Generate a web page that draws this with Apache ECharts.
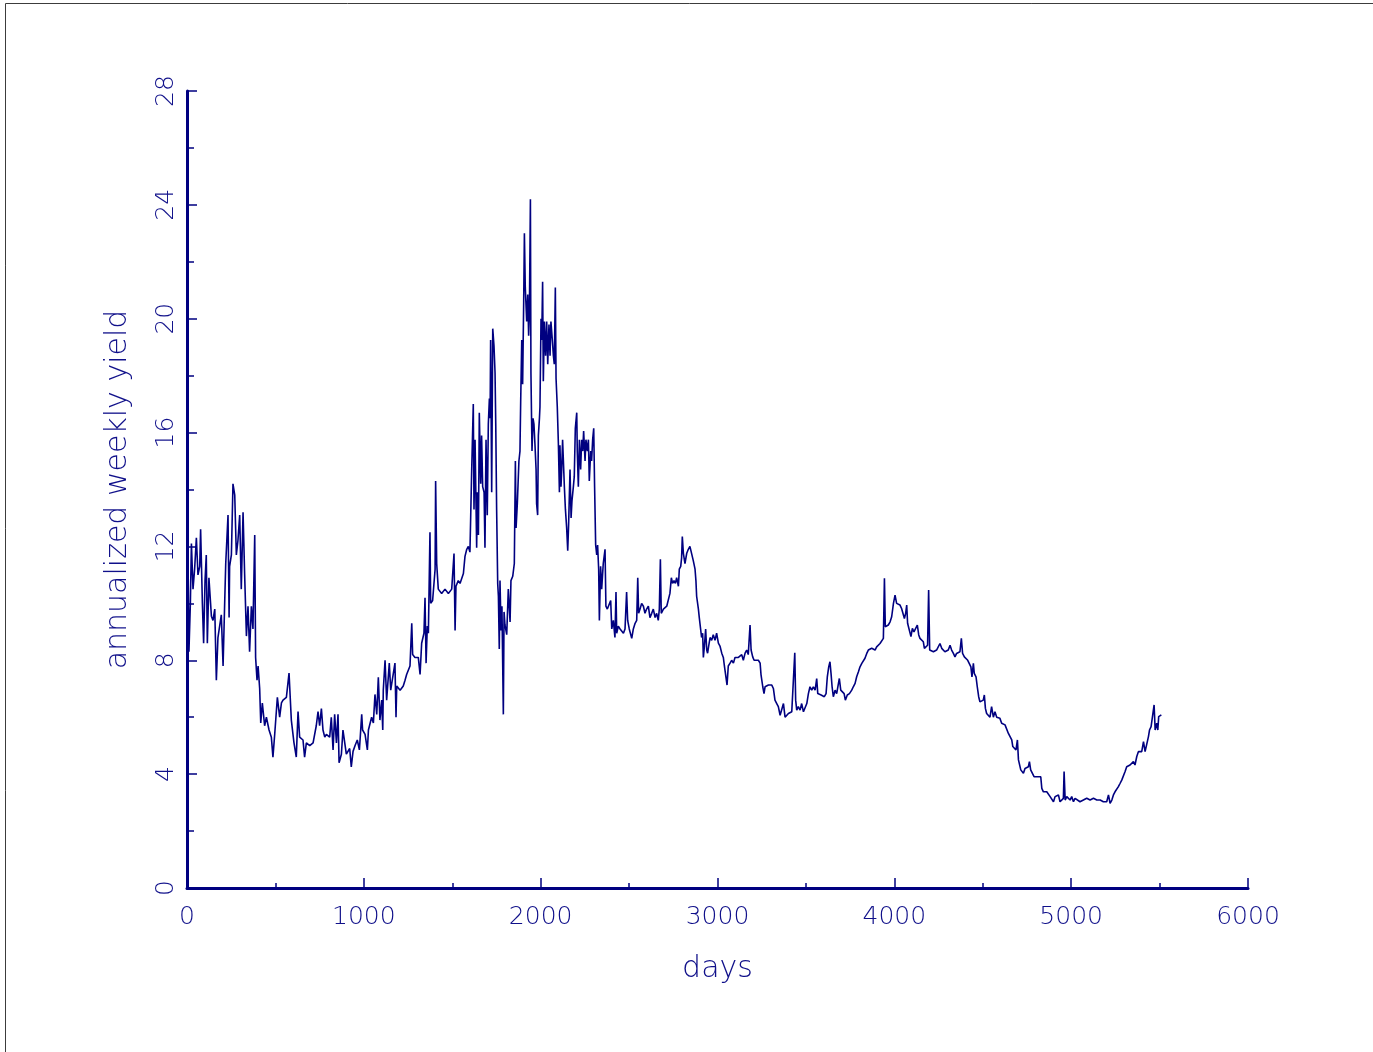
<!DOCTYPE html>
<html><head><meta charset="utf-8">
<script src="https://cdn.jsdelivr.net/npm/echarts@6/dist/echarts.min.js"></script>
<style>html,body{margin:0;padding:0;background:#fff;}#c{width:1373px;height:1052px;}</style>
</head><body><div id="c"></div>
<script>
// x-axis / y-axis tick settings
const xTickValues = [0, 1000, 2000, 3000, 4000, 5000, 6000];
const yTickValues = [0, 4, 8, 12, 16, 20, 24, 28];
const xLabel = 'days';
const yLabel = 'annualized weekly yield';

// [day, annualized weekly yield], by period
const early = [[0,8.9],[6,11.5],[11,8.3],[19,10.0],[25,12.1],[34,10.5],[43,11.2],[53,12.3],[62,11.0],[72,11.3],
[77,12.6],[87,10.0],[94,8.6],[102,10.8],[109,11.7],[115,8.6],[124,10.9],[138,9.55],[147,9.4],[157,9.8],
[166,7.3],[175,8.8],[185,8.8],[194,9.6],[204,7.8],[213,10.0],[219,11.4],[232,13.1],[238,9.5],[241,11.3],
[251,11.7],[260,14.2],[270,13.8],[279,11.7],[288,12.2],[298,13.1],[307,10.5],[317,13.2],[326,11.0],[336,8.85],
[345,9.9],[354,8.3],[364,9.9],[373,9.1],[383,12.4],[388,8.1],[396,7.3],[402,7.8],[411,7.0],[417,5.8],
[426,6.5],[439,5.7],[449,6.0],[464,5.55],[477,5.3],[486,4.6],[496,5.4],[511,6.7],[524,6.0],[534,6.5],
[543,6.6],[562,6.7],[577,7.55],[590,5.9],[605,5.1],[618,4.6],[628,6.2],[637,5.3],[656,5.2],[665,4.6],
[675,5.1],[694,5.0],[713,5.1],[731,5.7],[741,6.2],[750,5.7],[760,6.3],[769,5.55],[779,5.3],[788,5.4],
[807,5.3],[816,6.0],[826,4.85],[835,6.1],[845,5.1],[854,6.1],[860,4.4],[873,4.7],[882,5.55],[901,4.7],
[920,4.9],[929,4.25],[939,4.8]];

const rise = [[950,5.0],[963,5.2],[975,4.85],[988,6.1],[993,5.55],[1007,5.4],[1020,4.85],[1026,5.55],[1044,6.0],[1054,5.8],
[1063,6.8],[1073,6.1],[1082,7.4],[1091,5.9],[1101,6.6],[1107,5.55],[1110,6.95],[1120,8.0],[1129,6.6],[1144,7.9],
[1152,6.95],[1163,6.95],[1176,7.9],[1182,6.0],[1186,7.1],[1205,6.95],[1223,7.1],[1233,7.3],[1242,7.5],[1261,7.8],
[1271,9.3],[1276,8.2],[1289,8.1],[1308,8.1],[1318,7.5],[1327,8.6],[1340,8.95],[1346,10.2],[1352,7.9],[1359,9.2],
[1365,8.95],[1374,12.5],[1378,10.0],[1389,10.1],[1403,11.2],[1406,14.3],[1412,11.4],[1421,10.5],[1440,10.35],[1459,10.5],
[1478,10.35],[1497,10.5],[1510,11.75],[1516,9.05],[1521,10.6],[1534,10.8],[1544,10.7],[1563,11.05],[1572,11.65],[1582,11.9],
[1591,12.0]];

const peak = [[1600,11.8],[1610,14.7],[1619,17.0],[1623,13.3],[1629,15.75],[1638,11.95],[1642,13.9],[1648,12.4],[1653,16.7],[1661,14.2],
[1666,15.9],[1672,14.1],[1680,13.9],[1685,11.95],[1691,15.75],[1698,13.1],[1704,16.3],[1710,17.2],[1714,16.5],[1717,19.25],
[1723,13.9],[1729,19.65],[1736,19.05],[1742,18.1],[1746,16.3],[1751,13.3],[1757,10.7],[1761,10.25],[1766,8.4],[1770,10.8],
[1776,9.05],[1781,9.9],[1789,6.1],[1793,9.7],[1798,9.25],[1808,8.9],[1817,10.5],[1827,9.35],[1832,10.8],[1842,10.95],
[1851,11.4],[1857,15.0],[1861,12.65],[1868,13.5],[1877,15.0],[1883,15.35],[1887,17.1],[1893,19.25],[1898,17.7],[1904,20.6],
[1908,23.0],[1913,21.1],[1921,19.9],[1927,20.85],[1932,19.4],[1936,20.1],[1942,24.2],[1945,18.1],[1951,15.35],[1957,16.5],
[1962,16.3],[1968,15.55],[1974,14.7],[1977,13.5],[1983,13.1],[1987,15.9],[1993,16.5],[1996,16.9],[2002,20.0],[2006,19.25],
[2011,21.3],[2015,17.8],[2021,19.9],[2028,18.7],[2034,19.9],[2040,18.4],[2047,19.8],[2053,18.7],[2058,19.9],[2066,19.25],
[2072,18.7],[2077,18.4],[2083,21.1],[2087,17.9],[2094,16.9],[2100,15.65],[2106,13.9],[2109,15.55],[2115,14.1],[2119,14.7],
[2124,15.75],[2134,14.1],[2140,13.3],[2147,12.65],[2153,11.85],[2158,12.75],[2166,14.7],[2172,13.0],[2177,13.6],[2185,14.1],
[2190,14.45],[2196,16.15],[2204,16.7],[2207,15.35],[2213,14.1],[2219,15.75],[2226,14.7],[2232,15.75],[2238,15.35],[2243,16.05],
[2251,15.0],[2256,15.75],[2264,15.35],[2270,15.75],[2275,14.3],[2283,15.35],[2288,15.0],[2294,15.75],[2300,16.15],[2305,14.1],
[2311,12.05],[2317,11.7],[2322,12.05],[2328,11.2],[2332,9.4]];

const middle = [[2339,11.3],[2345,10.5],[2354,11.4],[2364,11.9],[2369,9.9],[2377,9.8],[2388,9.8],[2396,10.1],[2402,9.1],[2411,9.4],
[2420,8.8],[2426,10.4],[2430,8.95],[2439,9.2],[2449,9.1],[2468,8.95],[2477,9.1],[2486,10.4],[2492,9.4],[2501,9.1],
[2515,8.77],[2524,9.1],[2534,9.3],[2543,9.4],[2549,10.9],[2554,9.65],[2562,9.8],[2571,10.0],[2581,9.9],[2590,9.65],
[2599,9.8],[2609,9.9],[2618,9.5],[2628,9.65],[2637,9.8],[2647,9.5],[2656,9.65],[2665,9.4],[2671,9.8],[2677,11.55],
[2682,9.65],[2694,9.8],[2703,9.8],[2713,9.9],[2722,9.9],[2731,10.35],[2739,10.9],[2746,10.7],[2754,10.8],[2762,10.7],
[2769,10.9],[2779,10.6],[2784,11.2],[2792,11.3],[2797,11.6],[2801,12.35],[2807,11.76],[2816,11.4],[2826,11.76],[2835,11.9],
[2844,12.0],[2854,11.93],[2863,11.5],[2873,11.2],[2878,10.8],[2882,10.25],[2892,9.8],[2897,9.5],[2905,9.5],[2910,8.8],
[2916,8.95],[2920,8.1],[2926,8.5],[2933,9.1],[2939,8.36],[2944,8.25],[2950,8.5],[2958,8.8],[2967,8.7],[2976,8.9],
[2986,8.7],[2995,8.95],[3005,8.6],[3014,8.5],[3024,8.25],[3033,8.1],[3039,7.8],[3048,7.8],[3054,7.13],[3061,7.8],
[3071,7.9],[3080,8.0],[3090,7.9],[3099,8.1],[3108,8.07],[3118,8.1],[3127,8.07],[3137,8.2],[3146,8.0],[3156,8.25],
[3165,8.36],[3174,8.2],[3184,9.24]];

const later = [[3190,8.36],[3199,8.12],[3207,8.0],[3218,8.07],[3231,8.0],[3241,7.9],[3246,7.5],[3256,7.07],[3263,6.83],[3269,7.07],
[3278,7.07],[3288,7.13],[3297,7.07],[3307,7.13],[3316,7.01],[3325,6.6],[3335,6.48],[3344,6.37],[3354,6.07],[3363,6.0],
[3373,6.48],[3382,6.0],[3391,6.07],[3401,6.13],[3410,6.13],[3420,6.19],[3429,6.25],[3437,8.26],[3442,6.6],[3448,6.25],
[3457,6.37],[3467,6.25],[3476,6.48],[3486,6.19],[3495,6.13],[3505,6.48],[3514,6.83],[3523,7.07],[3533,6.95],[3542,7.07],
[3552,6.95],[3561,7.36],[3567,6.83],[3576,6.83],[3586,6.78],[3595,6.78],[3604,6.72],[3614,6.83],[3621,7.42],[3629,7.77],
[3636,7.95],[3642,7.54],[3648,7.07],[3655,6.72],[3665,6.95],[3674,6.83],[3684,7.19],[3689,7.36],[3697,6.95],[3706,7.01],
[3716,6.83],[3723,6.6],[3734,6.78],[3746,6.83],[3759,6.95],[3768,7.07],[3778,7.19],[3787,7.42],[3797,7.6],[3806,7.77],
[3816,7.89],[3825,7.95],[3834,8.07],[3844,8.24],[3853,8.36],[3863,8.3],[3872,8.42],[3881,8.36],[3891,8.36],[3900,8.47],
[3910,8.53],[3919,8.59],[3929,8.65],[3938,8.77],[3944,10.88],[3949,9.18],[3957,9.18],[3966,9.24],[3976,9.35],[3985,9.53],
[3995,10.0],[4004,10.29],[4013,10.0],[4023,10.0],[4032,9.94],[4041,9.82],[4051,9.76],[4057,9.47],[4064,9.65],[4070,9.94],
[4075,9.3],[4085,9.24],[4094,8.83],[4102,9.12],[4111,9.0],[4121,9.06],[4130,9.24],[4138,8.89],[4145,8.77],[4155,8.71],
[4164,8.65],[4170,8.42],[4179,8.47],[4188,8.53],[4194,10.47],[4200,8.36],[4211,8.3],[4221,8.3],[4230,8.36],[4239,8.36],
[4249,8.36],[4258,8.59],[4268,8.42],[4277,8.36],[4286,8.3],[4296,8.3],[4305,8.36],[4315,8.53],[4324,8.36],[4334,8.24],
[4343,8.12],[4352,8.24],[4362,8.24],[4371,8.3],[4379,8.77],[4386,8.24],[4396,8.12],[4405,8.07],[4415,8.0],[4424,7.95],
[4433,7.77],[4439,7.42],[4447,7.89],[4452,7.54],[4462,7.42],[4469,7.07],[4477,6.72],[4484,6.54],[4494,6.48],[4503,6.6],
[4509,6.78],[4515,6.31],[4522,6.13],[4532,6.19],[4541,6.0],[4550,6.37],[4560,6.0],[4569,6.19],[4579,6.0],[4588,6.0],
[4597,5.96]];

const recent = [[4607,5.79],[4617,5.73],[4626,5.73],[4636,5.67],[4645,5.43],[4655,5.38],[4664,5.2],[4670,4.97],[4677,4.91],[4688,4.85],
[4696,5.2],[4702,4.5],[4707,4.44],[4715,4.15],[4722,4.2],[4730,4.03],[4739,4.2],[4749,4.2],[4758,4.26],[4764,4.44],
[4771,4.15],[4781,4.09],[4790,3.91],[4800,3.97],[4809,3.91],[4819,3.85],[4828,3.91],[4834,3.5],[4843,3.38],[4853,3.44],
[4862,3.38],[4871,3.44],[4881,3.21],[4890,3.27],[4900,3.03],[4909,3.21],[4918,3.15],[4928,3.27],[4937,3.03],[4947,3.09],
[4956,3.15],[4960,4.09],[4966,3.09],[4975,3.21],[4994,3.09],[5003,3.21],[5013,3.03],[5022,3.15],[5032,3.09],[5050,3.03],
[5069,3.09],[5088,3.15],[5107,3.09],[5126,3.15],[5145,3.09],[5164,3.09],[5182,3.03],[5201,3.03],[5211,3.27],[5220,2.97],
[5230,3.09],[5239,3.27],[5248,3.38],[5258,3.44],[5267,3.56],[5277,3.68],[5286,3.79],[5296,3.85],[5305,4.09],[5314,4.26],
[5324,4.32],[5333,4.32],[5343,4.38],[5352,4.44],[5361,4.32],[5371,4.62],[5380,4.79],[5390,4.79],[5399,4.79],[5409,5.14],
[5418,4.79],[5427,4.85],[5437,5.32],[5443,5.55],[5452,5.67],[5461,5.61],[5469,6.43],[5475,5.55],[5484,5.79],[5490,5.55],
[5495,6.02],[5503,5.96],[5510,6.08]];

const series = early.concat(rise, peak, middle, later, recent);

const navy = '#000080';
const textColor = '#10108a';
const tickFont = {color: textColor, fontFamily: 'DejaVu Sans', fontWeight: 200, fontSize: 25};
const nameFont = {color: textColor, fontFamily: 'DejaVu Sans', fontWeight: 200, fontSize: 30};

const chart = echarts.init(document.getElementById('c'), null, {renderer: 'canvas'});
chart.setOption({
  animation: false,
  backgroundColor: '#ffffff',
  graphic: [{
    type: 'rect', silent: true, z: 0,
    shape: {x: 5.5, y: 3.5, width: 1400, height: 1100},
    style: {fill: 'none', stroke: '#3c3c3c', lineWidth: 1}
  }],
  grid: {left: 187, right: 125, top: 91, bottom: 164, containLabel: false},
  xAxis: {
    type: 'value',
    min: xTickValues[0], max: xTickValues[xTickValues.length - 1],
    interval: xTickValues[1] - xTickValues[0],
    name: xLabel, nameLocation: 'middle', nameGap: 66,
    nameTextStyle: Object.assign({}, nameFont),
    axisLine: {show: true, onZero: false, lineStyle: {color: navy, width: 3}},
    axisTick: {show: true, inside: true, length: 10, lineStyle: {color: navy, width: 1.5}},
    minorTick: {show: true, splitNumber: 2, length: 5, lineStyle: {color: navy, width: 1.5}},
    splitLine: {show: false},
    axisLabel: Object.assign({margin: 17, hideOverlap: false, formatter: function (v) { return String(v); }}, tickFont)
  },
  yAxis: {
    type: 'value',
    min: yTickValues[0], max: yTickValues[yTickValues.length - 1],
    interval: yTickValues[1] - yTickValues[0],
    name: yLabel, nameLocation: 'middle', nameGap: 54, nameRotate: 90,
    nameTextStyle: Object.assign({}, nameFont),
    axisLine: {show: true, onZero: false, lineStyle: {color: navy, width: 3}},
    axisTick: {show: true, inside: true, length: 10, lineStyle: {color: navy, width: 1.5}},
    minorTick: {show: true, splitNumber: 2, length: 7, lineStyle: {color: navy, width: 1.5}},
    splitLine: {show: false},
    axisLabel: Object.assign({margin: 8, rotate: 90, hideOverlap: false, formatter: function (v) { return String(v); }}, tickFont)
  },
  series: [{
    type: 'line', data: series, showSymbol: false, silent: true,
    lineStyle: {color: navy, width: 1.6}, z: 3
  }]
});
</script></body></html>
